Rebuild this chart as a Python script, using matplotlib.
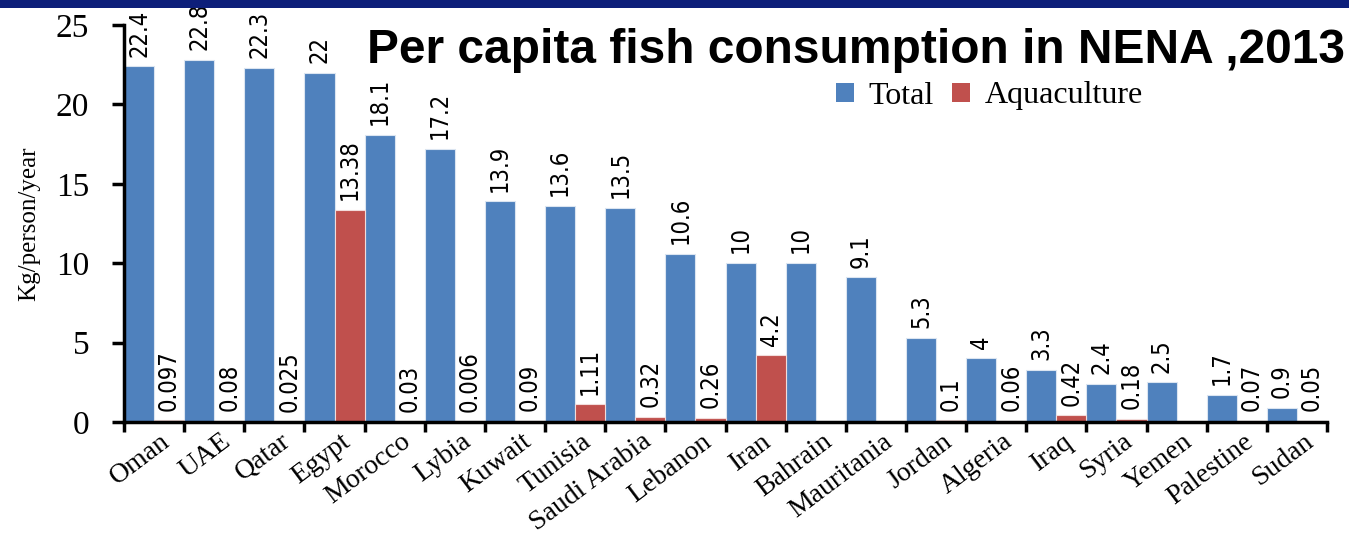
import matplotlib
matplotlib.use("Agg")
import matplotlib.pyplot as plt
import matplotlib.transforms as mtransforms
from matplotlib.patches import Rectangle, Patch
import numpy as np

countries = ["Oman", "UAE", "Qatar", "Egypt", "Morocco", "Lybia", "Kuwait", "Tunisia",
             "Saudi Arabia", "Lebanon", "Iran", "Bahrain", "Mauritania", "Jordan",
             "Algeria", "Iraq", "Syria", "Yemen", "Palestine", "Sudan"]
total = [22.4, 22.8, 22.3, 22, 18.1, 17.2, 13.9, 13.6, 13.5, 10.6, 10, 10, 9.1, 5.3,
         4, 3.3, 2.4, 2.5, 1.7, 0.9]
aquaculture = [0.097, 0.08, 0.025, 13.38, 0.03, 0.006, 0.09, 1.11, 0.32, 0.26, 4.2,
               None, None, 0.1, 0.06, 0.42, 0.18, None, 0.07, 0.05]
total_labels = ["22.4", "22.8", "22.3", "22", "18.1", "17.2", "13.9", "13.6", "13.5",
                "10.6", "10", "10", "9.1", "5.3", "4", "3.3", "2.4", "2.5", "1.7", "0.9"]
aqua_labels = ["0.097", "0.08", "0.025", "13.38", "0.03", "0.006", "0.09", "1.11", "0.32",
               "0.26", "4.2", None, None, "0.1", "0.06", "0.42", "0.18", None, "0.07", "0.05"]
yticks = [0, 5, 10, 15, 20, 25]

BLUE = "#4F81BD"
RED = "#C0504D"
SERIF = "Liberation Serif"

W, H = 1349, 536
fig = plt.figure(figsize=(W / 100, H / 100), dpi=100)
fig.patch.set_facecolor("white")

# top dark blue band
fig.patches.append(Rectangle((0, 1 - 8 / H), 1, 8 / H, transform=fig.transFigure,
                             facecolor="#0d1f7a", edgecolor="none", zorder=0))

ax = fig.add_axes([124 / W, 1 - 422 / H, (1327 - 124) / W, (422 - 25) / H])
n = len(countries)
x = np.arange(n)
ax.bar(x + 0.25, total, width=0.5, color=BLUE, edgecolor="#dbe5f1", linewidth=0.8, zorder=2)
aq_vals = [v if v is not None else 0 for v in aquaculture]
ax.bar(x + 0.75, aq_vals, width=0.5, color=RED, edgecolor="#f2dcdb", linewidth=0.8, zorder=2)

lab_kw = dict(textcoords="offset points", rotation=90, ha="center", va="bottom",
              fontsize=17, family="DejaVu Sans", fontstretch="condensed")
for i in range(n):
    ax.annotate(total_labels[i], (x[i] + 0.25, total[i]), xytext=(0, 7), **lab_kw)
    if aqua_labels[i] is not None:
        ax.annotate(aqua_labels[i], (x[i] + 0.75, aquaculture[i]), xytext=(0, 7), **lab_kw)

ax.set_xlim(0, n)
ax.set_ylim(0, 25)
ax.set_yticks(yticks)
ax.set_yticklabels([str(t) for t in yticks], family=SERIF, fontsize=24)
ax.tick_params(axis="y", length=9, width=2.5, pad=16, direction="out")

ax.set_xticks(np.arange(n + 1), minor=True)
ax.set_xticks(x + 0.5)
ax.set_xticklabels(countries, rotation=37, ha="right", rotation_mode="anchor",
                   family=SERIF, fontsize=20)
ax.tick_params(axis="x", which="major", length=0, pad=5)
ax.tick_params(axis="x", which="minor", length=7, width=2.5, direction="out")
offset = mtransforms.ScaledTranslation(6 / 100, 0, fig.dpi_scale_trans)
for lab in ax.get_xticklabels():
    lab.set_transform(lab.get_transform() + offset)

for s in ["top", "right"]:
    ax.spines[s].set_visible(False)
for s in ["left", "bottom"]:
    ax.spines[s].set_linewidth(2.5)
    ax.spines[s].set_color("black")

fig.text(29 / W, 1 - 224 / H, "Kg/person/year", rotation=90, ha="center", va="center",
         family=SERIF, fontsize=18)

fig.text(1345 / W, 1 - 63 / H, "Per capita fish consumption in NENA ,2013",
         ha="right", va="baseline", fontsize=34.5, fontweight="bold", family="Liberation Sans")

handles = [Patch(facecolor=BLUE, edgecolor="none"), Patch(facecolor=RED, edgecolor="none")]
fig.legend(handles, ["Total", "Aquaculture"], loc="center left",
           bbox_to_anchor=(836 / W, 1 - 96 / H), ncol=2, frameon=False,
           handlelength=0.55, handleheight=0.55, handletextpad=0.45, columnspacing=0.6,
           prop={"family": SERIF, "size": 23}, borderaxespad=0, borderpad=0)

fig.savefig("out.png", dpi=100)
